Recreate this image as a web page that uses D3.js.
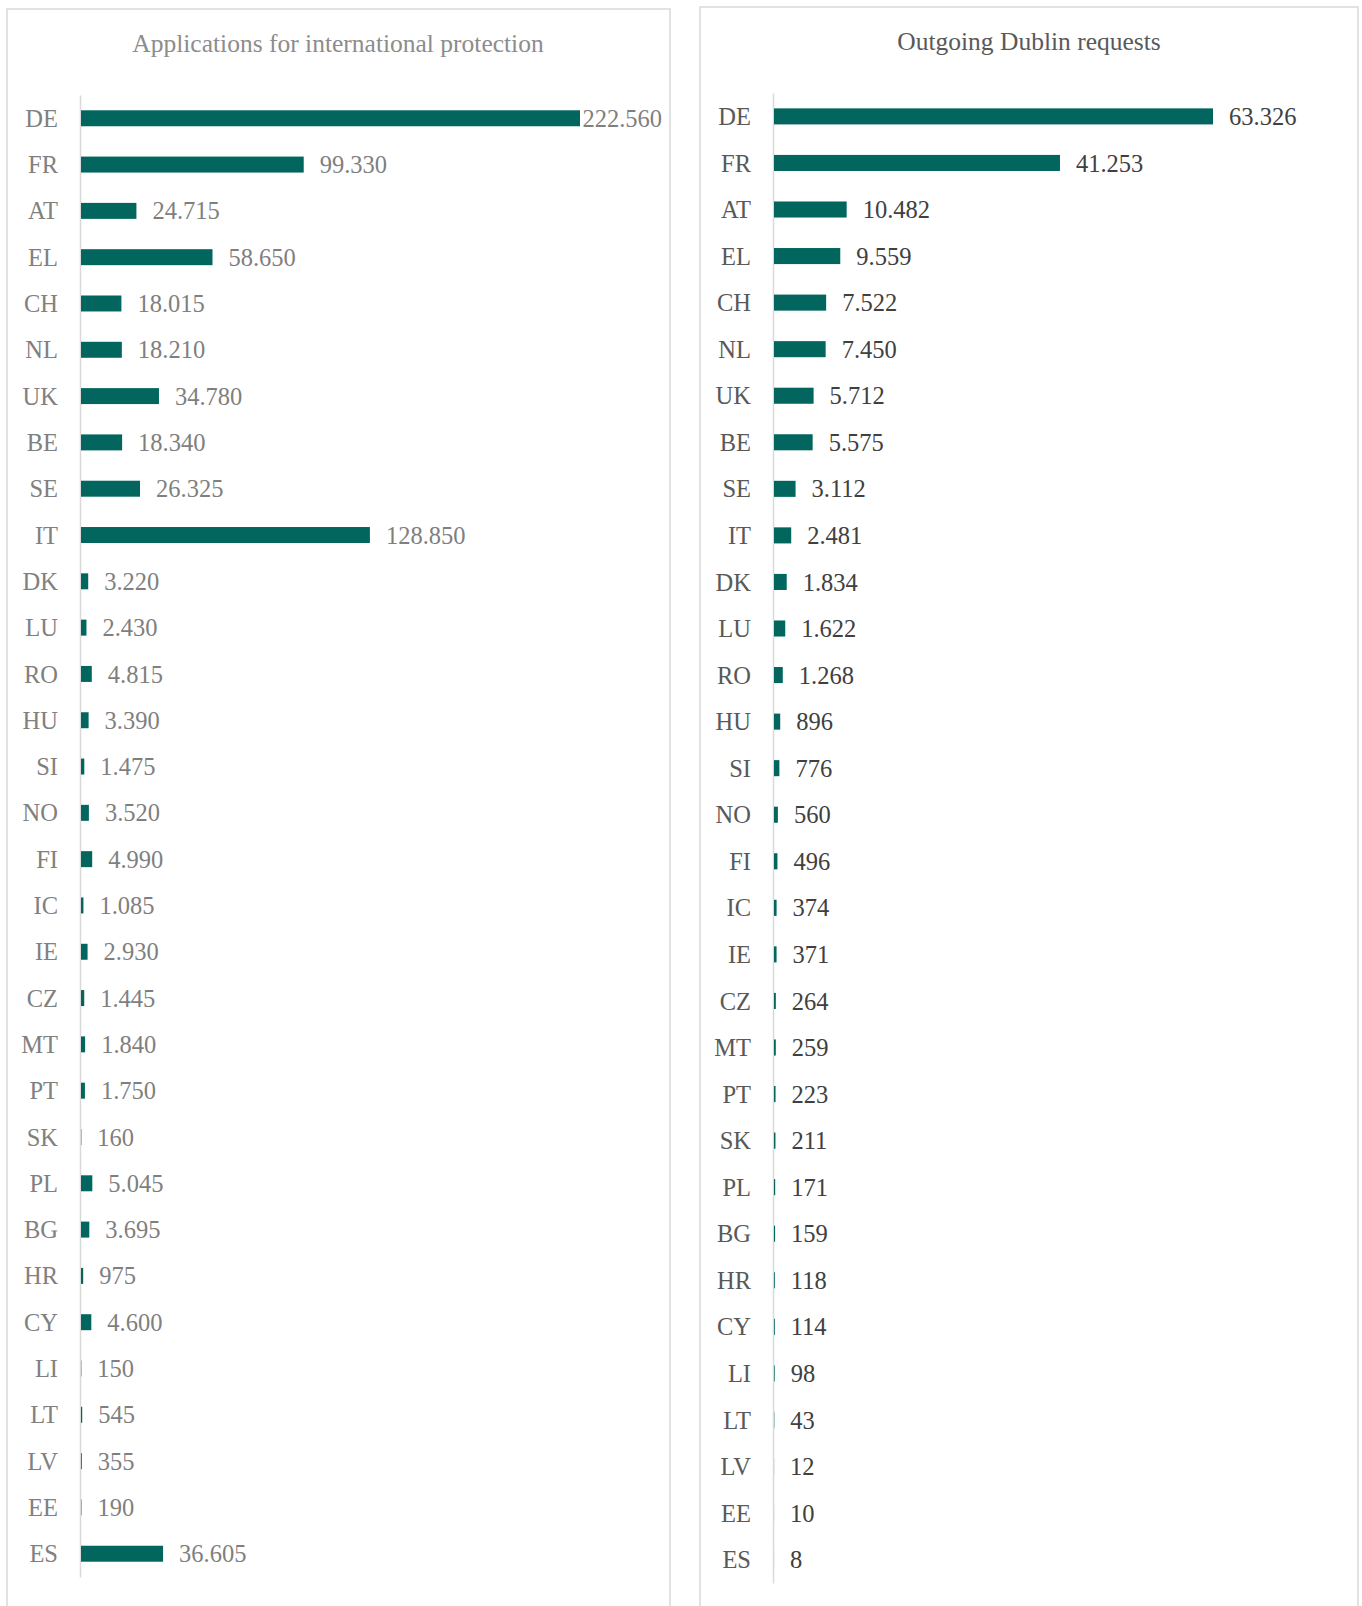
<!DOCTYPE html>
<html>
<head>
<meta charset="utf-8">
<script src="https://cdn.jsdelivr.net/npm/d3@7"></script>
<style>
  html, body { margin: 0; padding: 0; background: #ffffff; }
  svg { display: block; }
  text { font-family: "Liberation Serif", "DejaVu Serif", serif; }
</style>
</head>
<body>
<svg id="chart" width="1362" height="1606"></svg>
<script>
// Country codes, in the order they are listed in both panels
const countries = ["DE","FR","AT","EL","CH","NL","UK","BE","SE","IT","DK","LU","RO","HU","SI","NO",
  "FI","IC","IE","CZ","MT","PT","SK","PL","BG","HR","CY","LI","LT","LV","EE","ES"];

// Applications for international protection
const applications = [222560, 99330, 24715, 58650, 18015, 18210, 34780, 18340, 26325, 128850, 3220, 2430,
  4815, 3390, 1475, 3520, 4990, 1085, 2930, 1445, 1840, 1750, 160, 5045, 3695, 975, 4600, 150, 545, 355, 190, 36605];

// Outgoing Dublin requests
const dublinRequests = [63326, 41253, 10482, 9559, 7522, 7450, 5712, 5575, 3112, 2481, 1834, 1622,
  1268, 896, 776, 560, 496, 374, 371, 264, 259, 223, 211, 171, 159, 118, 114, 98, 43, 12, 10, 8];

const titles = ["Applications for international protection", "Outgoing Dublin requests"];

const BAR = "#02665f";
const FS = 24.5;
const fmt = v => d3.format(",")(v).replace(/,/g, ".");

const svg = d3.select("#chart");

function panel(cfg) {
  const g = svg.append("g");

  // frame
  g.append("rect")
    .attr("x", cfg.frame[0]).attr("y", cfg.frame[1])
    .attr("width", cfg.frame[2]).attr("height", cfg.frame[3])
    .attr("fill", "none").attr("stroke", "#d9d9d9").attr("stroke-width", 1.5);

  // title
  g.append("text")
    .attr("x", cfg.titleX).attr("y", cfg.titleY)
    .attr("text-anchor", "middle")
    .attr("font-size", 25.5)
    .attr("fill", cfg.titleColor)
    .text(cfg.title);

  const y = d3.scaleBand().domain(countries).range([cfg.top, cfg.bottom]).paddingInner(0.655).paddingOuter(0.33);
  const x = d3.scaleLinear().domain([0, cfg.max]).range([cfg.x0, cfg.x1]);

  // category axis
  const axis = d3.axisLeft(y).tickSize(0).tickSizeOuter(0).tickPadding(22);
  const ag = g.append("g").attr("transform", `translate(${cfg.axisX},0)`).call(axis);
  ag.select(".domain").attr("stroke", "#d9d9d9").attr("stroke-width", 1.5);
  ag.selectAll("text")
    .attr("font-family", "Liberation Serif, DejaVu Serif, serif")
    .attr("font-size", FS)
    .attr("fill", cfg.catColor)
    .attr("dy", "0.35em");

  // bars
  g.selectAll("rect.bar").data(cfg.values).join("rect")
    .attr("class", "bar")
    .attr("x", x(0))
    .attr("y", (d, i) => y(countries[i]))
    .attr("height", y.bandwidth())
    .attr("width", d => x(d) - x(0))
    .attr("fill", BAR);

  // value labels
  g.selectAll("text.val").data(cfg.values).join("text")
    .attr("class", "val")
    .attr("font-size", FS)
    .attr("fill", cfg.valColor)
    .attr("y", (d, i) => y(countries[i]) + y.bandwidth() / 2)
    .attr("dy", "0.35em")
    .text(d => fmt(d))
    .each(function (d) {
      const w = this.getComputedTextLength();
      let lx = x(d) + 16;
      if (lx + w > cfg.labelMax) lx = cfg.labelMax - w;
      d3.select(this).attr("x", lx);
    });
}

panel({
  frame: [7, 9, 663, 1620],
  title: titles[0], titleX: 338, titleY: 52, titleColor: "#8c8c8c",
  top: 95, bottom: 1577, axisX: 80, x0: 81, x1: 580, max: applications[0],
  values: applications, catColor: "#808080", valColor: "#7f7f7f", labelMax: 662
});

panel({
  frame: [700, 7, 658, 1620],
  title: titles[1], titleX: 1029, titleY: 50, titleColor: "#595959",
  top: 93, bottom: 1583, axisX: 773, x0: 774, x1: 1213, max: dublinRequests[0],
  values: dublinRequests, catColor: "#595959", valColor: "#404040", labelMax: 1350
});
</script>
</body>
</html>
